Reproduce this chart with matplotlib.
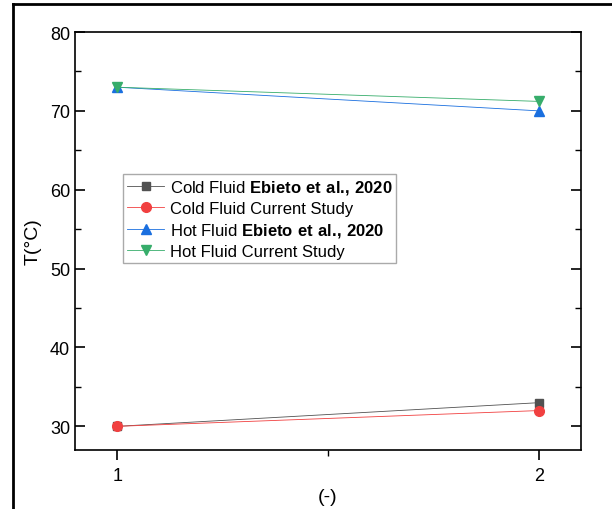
import matplotlib
matplotlib.use("Agg")
import matplotlib.pyplot as plt
from matplotlib.lines import Line2D
from matplotlib.ticker import MultipleLocator

plt.rcParams['font.family'] = ['Liberation Sans', 'DejaVu Sans']
plt.rcParams['mathtext.fontset'] = 'custom'
plt.rcParams['mathtext.rm'] = 'Liberation Sans'
plt.rcParams['mathtext.bf'] = 'Liberation Sans:bold'

x = [1, 2]
cold_ebieto = [30, 33]
cold_current = [30, 32]
hot_ebieto = [73, 70]
hot_current = [73, 71.2]

# mathtext puts a small space after "." -> pull the comma back
ref = r"$\bf{Ebieto\ et\ al.\hspace{-0.2}{,}\ 2020}$"
labels = ["Cold Fluid " + ref,
          "Cold Fluid Current Study",
          "Hot Fluid " + ref,
          "Hot Fluid Current Study"]

fig = plt.figure(figsize=(6.12, 5.1), dpi=100)
W, H = 612, 510
ax = fig.add_axes([75 / W, 1 - 451 / H, (581 - 75) / W, (451 - 33) / H])

ax.plot(x, cold_ebieto, color='#515151', lw=0.6, marker='s', ms=6, label=labels[0])
ax.plot(x, cold_current, color='#F14040', lw=0.6, marker='o', ms=7, label=labels[1])
ax.plot(x, hot_ebieto, color='#1A6FDF', lw=0.6, marker='^', ms=7, label=labels[2])
ax.plot(x, hot_current, color='#37AD6B', lw=0.6, marker='v', ms=7, label=labels[3])

ax.set_xlim(0.9, 2.1)
ax.set_ylim(27, 80)
ax.xaxis.set_major_locator(MultipleLocator(1))
ax.xaxis.set_minor_locator(MultipleLocator(0.5))
ax.yaxis.set_major_locator(MultipleLocator(10))
ax.yaxis.set_minor_locator(MultipleLocator(5))

ax.tick_params(axis='y', which='both', direction='in', left=True, right=True, labelsize=13)
ax.tick_params(axis='y', which='major', length=7, width=1.2)
ax.tick_params(axis='y', which='minor', length=4, width=1)
ax.tick_params(axis='x', which='both', direction='out', labelsize=13, pad=5)
ax.tick_params(axis='x', which='major', length=7, width=1.2)
ax.tick_params(axis='x', which='minor', length=4, width=1)
ax.xaxis.set_minor_formatter(plt.NullFormatter())

for s in ax.spines.values():
    s.set_linewidth(1.2)

ax.set_xlabel("(-)", fontsize=14, labelpad=3)
ax.set_ylabel("T(°C)", fontsize=14, labelpad=6)

ax.legend(loc='upper left', bbox_to_anchor=((123 - 75) / (581 - 75), 1 - (175 - 33) / (451 - 33)),
          fontsize=12, frameon=True, fancybox=False, edgecolor='#aaaaaa',
          borderaxespad=0, handlelength=2.2, labelspacing=0.3, borderpad=0.25,
          handletextpad=0.35, framealpha=1)

# outer figure frame (partially cut in the reference)
fig.add_artist(Line2D([13 / W, 13 / W], [0, 1 - 5 / H], transform=fig.transFigure, color='black', lw=2))
fig.add_artist(Line2D([13 / W, 1], [1 - 5 / H, 1 - 5 / H], transform=fig.transFigure, color='black', lw=2))

fig.savefig("out.png", dpi=100)
